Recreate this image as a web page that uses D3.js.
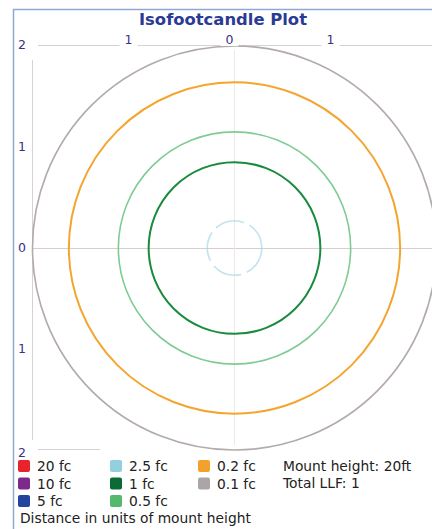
<!DOCTYPE html>
<html>
<head>
<meta charset="utf-8">
<script src="https://cdn.jsdelivr.net/npm/d3@7"></script>
<style>
  body { margin: 0; background: #fff; }
  text { font-family: "DejaVu Sans", sans-serif; }
</style>
</head>
<body>
<svg width="432" height="529"></svg>
<script>
// legend levels and isoline radii (in mount heights), null = no contour drawn
var levels = ["20 fc", "10 fc", "5 fc", "2.5 fc", "1 fc", "0.5 fc", "0.2 fc", "0.1 fc"];
var levelColors = ["#e8232c", "#7e2a8c", "#22449e", "#92d0e0", "#0b6b34", "#52b96e", "#f4a12c", "#aaa6a6"];
var lineColors = ["#e8232c", "#7e2a8c", "#22449e", "#a6d8e6", "#1a8a3e", "#7fcb95", "#f4a52e", "#b3aaaa"];
var radii = [null, null, null, 0.27, 0.85, 1.15, 1.64, 2.0];
var xTicks = [-1, 0, 1];
var yTicks = [2, 1, 0, -1, -2];
var infoLines = ["Mount height: 20ft", "Total LLF: 1"];

var svg = d3.select("svg");
var cx = 234.5, cy = 248, unit = 101;

var x = d3.scaleLinear().domain([-2, 2]).range([cx - 2 * unit, cx + 2 * unit]);
var y = d3.scaleLinear().domain([2, -2]).range([cy - 2 * unit, cy + 2 * unit]);

// frame
svg.append("rect")
    .attr("x", 13.5).attr("y", 9.5)
    .attr("width", 440).attr("height", 540)
    .attr("fill", "#fff")
    .attr("stroke", "#8ea8d6").attr("stroke-width", 1.5);

svg.append("text")
    .attr("x", 223).attr("y", 25)
    .attr("text-anchor", "middle")
    .attr("font-size", 16.4).attr("font-weight", "bold")
    .attr("fill", "#2b3b94")
    .text("Isofootcandle Plot");

// axis / grid lines
var grid = svg.append("g").attr("stroke-width", 1).attr("fill", "none");
grid.append("line").attr("x1", 38).attr("x2", 432).attr("y1", 45.5).attr("y2", 45.5).attr("stroke", "#d6d2d2");
grid.append("line").attr("x1", 38).attr("x2", 100).attr("y1", 449.5).attr("y2", 449.5).attr("stroke", "#d6d2d2");
grid.append("line").attr("x1", 32.5).attr("x2", 32.5).attr("y1", 60).attr("y2", 440).attr("stroke", "#d6d2d2");
grid.append("line").attr("x1", 32).attr("x2", 432).attr("y1", y(0) + 0.5).attr("y2", y(0) + 0.5).attr("stroke", "#d9cdcd");
grid.append("line").attr("x1", x(0)).attr("x2", x(0)).attr("y1", 50).attr("y2", 445).attr("stroke", "#eee8e8");

// isolines
var iso = levels.map(function (l, i) { return { label: l, color: lineColors[i], r: radii[i] }; })
    .filter(function (d) { return d.r != null; });

svg.append("g").selectAll("circle")
    .data(iso)
    .enter()
    .append("circle")
    .attr("cx", x(0))
    .attr("cy", y(0))
    .attr("r", function (d) { return x(d.r) - x(0); })
    .attr("fill", "none")
    .attr("stroke", function (d) { return d.color; })
    .attr("stroke-width", function (d) { return d.label == "0.2 fc" || d.label == "1 fc" ? 2 : 1.6; })
    .attr("stroke-dasharray", function (d) { return d.label == "2.5 fc" ? "30,6" : null; })
    .attr("opacity", function (d) { return d.label == "2.5 fc" ? 0.7 : 1; });

// tick labels with white background
var tickColor = "#3a3088";
var xl = svg.append("g").selectAll("g").data(xTicks).enter().append("g")
    .attr("transform", function (d) { return "translate(" + (x(d) - 5) + ",40)"; });
xl.append("rect").attr("x", -9).attr("y", -8).attr("width", 18).attr("height", 14).attr("fill", "#fff");
xl.append("text").attr("text-anchor", "middle").attr("dy", "0.35em")
    .attr("font-size", 12.5).attr("fill", tickColor)
    .text(function (d) { return Math.abs(d); });

var yl = svg.append("g").selectAll("g").data(yTicks).enter().append("g")
    .attr("transform", function (d) { return "translate(22," + (y(d) + (d == 2 ? -1 : d == -2 ? 3 : 0)) + ")"; });
yl.append("rect").attr("x", -7).attr("y", -8).attr("width", 14).attr("height", 15).attr("fill", "#fff");
yl.append("text").attr("text-anchor", "middle").attr("dy", "0.35em")
    .attr("font-size", 12.5).attr("fill", tickColor)
    .text(function (d) { return Math.abs(d); });

// legend
var colX = [18, 110, 198];
var legend = svg.append("g").selectAll("g").data(levels).enter().append("g")
    .attr("transform", function (d, i) {
        var col = i < 3 ? 0 : i < 6 ? 1 : 2;
        var row = i < 3 ? i : i < 6 ? i - 3 : i - 6;
        return "translate(" + colX[col] + "," + (460 + row * 17.5) + ")";
    });
legend.append("rect")
    .attr("width", 12).attr("height", 12).attr("rx", 2)
    .attr("fill", function (d, i) { return levelColors[i]; });
legend.append("text")
    .attr("x", 19).attr("y", 11)
    .attr("font-size", 13.8).attr("fill", "#222")
    .text(function (d) { return d; });

svg.append("g").selectAll("text").data(infoLines).enter().append("text")
    .attr("x", 283).attr("y", function (d, i) { return 471 + i * 17; })
    .attr("font-size", 13.8).attr("fill", "#222")
    .text(function (d) { return d; });

svg.append("text")
    .attr("x", 20).attr("y", 523)
    .attr("font-size", 13.8).attr("fill", "#222")
    .text("Distance in units of mount height");
</script>
</body>
</html>
